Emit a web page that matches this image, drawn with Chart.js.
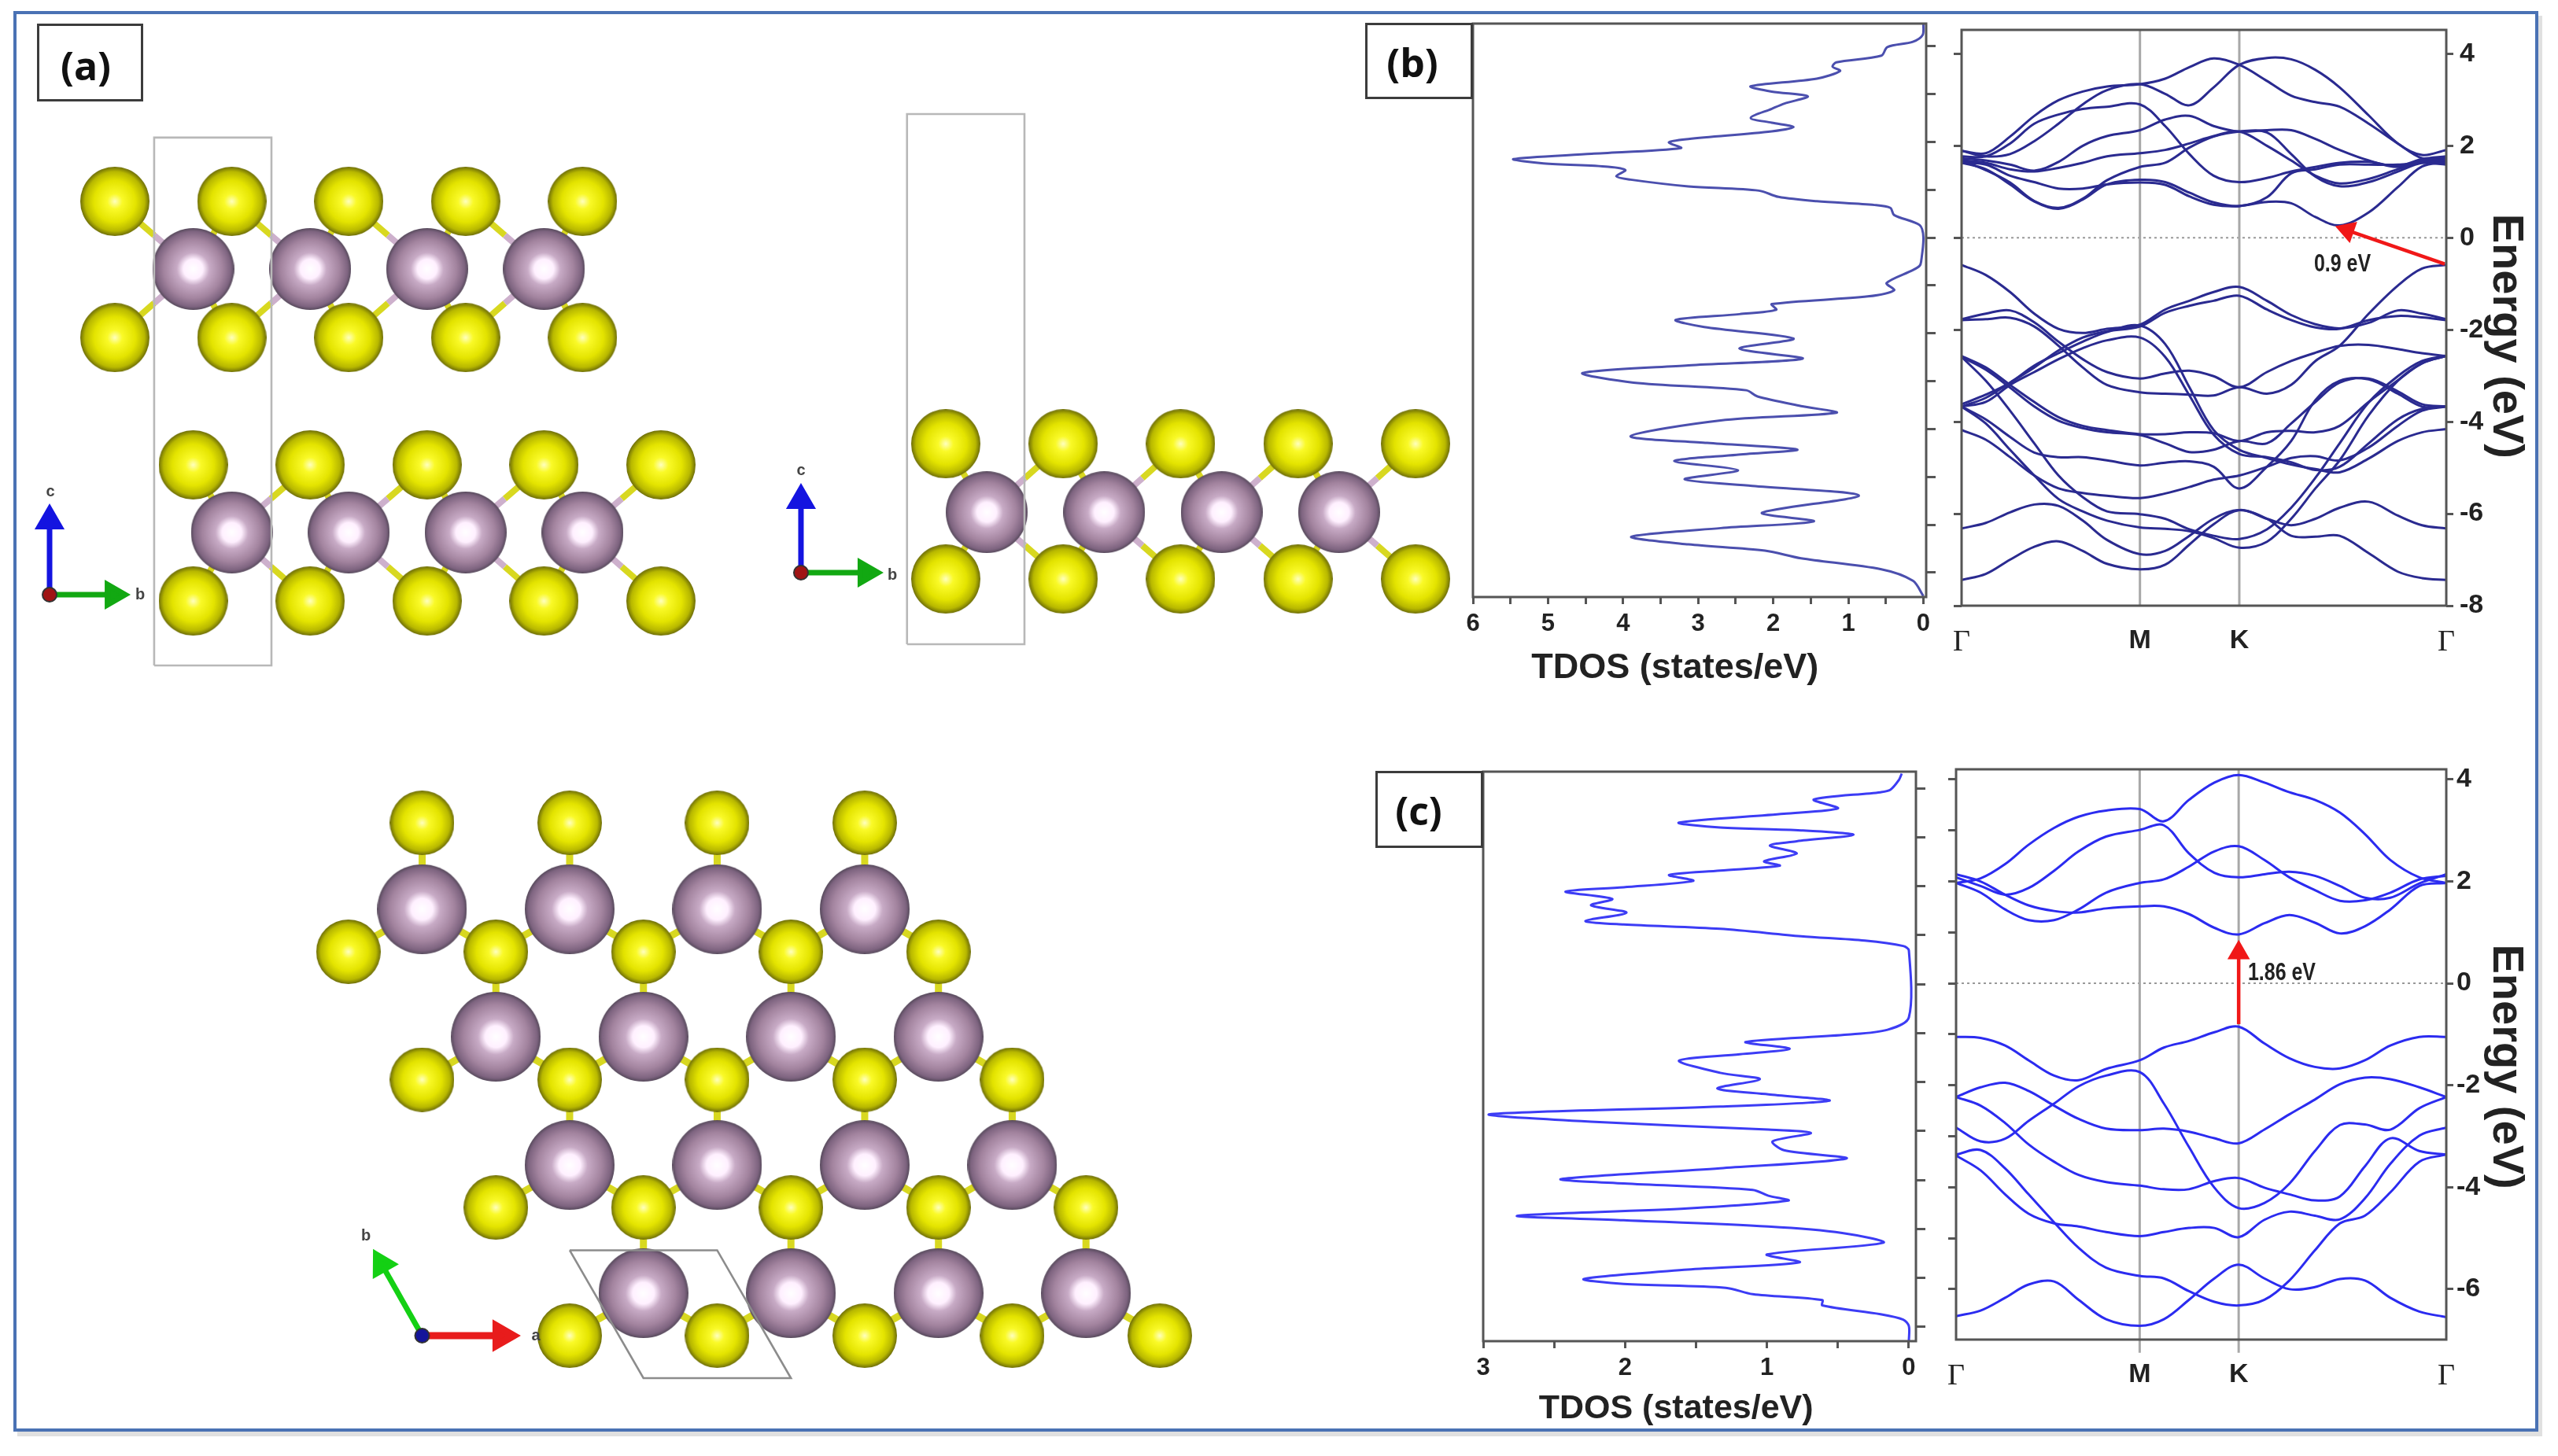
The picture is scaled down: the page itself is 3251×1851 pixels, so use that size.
<!DOCTYPE html>
<html>
<head>
<meta charset="utf-8">
<script src="https://cdn.jsdelivr.net/npm/chart.js@4/dist/chart.umd.min.js"></script>
<style>
  html, body { margin: 0; background: #fff; }
  #page { position: relative; width: 3251px; height: 1851px; overflow: hidden; background: #fff; }
  #frame { position: absolute; left: 17px; top: 14px; width: 3201px; height: 1798px; background: #fff; border: 4px solid #4a72b4; box-shadow: 5px 6px 0 #e0e0e0; }
  canvas { position: absolute; filter: blur(0.7px); }
  .box { position: absolute; border: 3px solid #3c3c3c; background: #fff; box-sizing: border-box; }
  .txt { position: absolute; transform: translate(-50%, -50%); white-space: nowrap; color: #222; }
  .panel { font: 700 50px "Open Sans", sans-serif; color: #111; }
  .axisl { font: bold 20px "Liberation Sans", sans-serif; color: #444; }
  .gap { font: bold 32px "Liberation Sans", sans-serif; transform: translate(-50%, -50%) scaleX(.78); }
</style>
</head>
<body>
<div id="page"><div id="frame"></div></div>
<script>
// ---------------- DATA ----------------
// TDOS, panel (b)
const dosB = [0,.01,.14,.48,.56,1.16,1.21,1.11,1.42,2.3,2.02,1.54,1.85,2.02,2.3,2.02,1.73,2.02,3.13,3.39,3.23,4.42,5.46,5.06,4.2,3.97,4.09,3.9,3.13,2.19,1.93,1.42,.65,.44,.39,.05,0,.03,.05,.14,.49,.39,.74,2.02,1.96,2.45,3.3,2.92,1.73,2.45,1.61,3.13,4.54,3.86,2.36,2.21,1.63,1.16,2.7,3.9,2.88,1.68,2.49,3.32,2.47,3.18,2.28,.86,2.15,1.46,2.7,3.89,3.13,2.11,1.63,.56,.14,0];
const energyB = [4.47,4.23,4.09,3.98,3.8,3.66,3.57,3.48,3.32,3.16,3.05,2.95,2.8,2.69,2.5,2.4,2.31,2.22,2.06,1.99,1.87,1.75,1.64,1.55,1.48,1.41,1.28,1.21,1.07,.98,.85,.76,.68,.62,.47,.26,0,-.5,-.59,-.68,-.95,-1.1,-1.23,-1.39,-1.51,-1.6,-1.72,-1.87,-2.11,-2.32,-2.53,-2.67,-2.83,-3.03,-3.19,-3.32,-3.52,-3.66,-3.82,-4.15,-4.29,-4.43,-4.54,-4.67,-4.86,-5.05,-5.19,-5.39,-5.75,-5.93,-6.07,-6.25,-6.41,-6.54,-6.7,-6.93,-7.17,-7.49];

// TDOS, panel (c)
const dosC = [.05,.07,.13,.2,.67,.5,.88,1.62,1.33,.76,.39,.79,.98,.79,1.02,.91,1.33,1.69,1.52,2.01,2.42,2.09,2.24,1.99,2.28,2.01,1.33,.76,.31,.04,0,0,.15,.43,1.15,.84,1.19,1.62,1.33,1.05,1.35,.99,.56,1.33,2.96,2.24,.99,.69,.96,.88,.44,1.33,2.45,2.01,1.1,.99,.85,1.56,2.76,2.01,.99,.47,.18,1,.77,1.56,2.29,2.01,1.29,1.1,.61,.61,.2,.04,0,0];
const energyC = [4.3,4.17,3.97,3.92,3.77,3.59,3.48,3.3,3.2,3.14,3.05,2.92,2.83,2.67,2.51,2.42,2.32,2.23,2.11,1.98,1.89,1.74,1.61,1.46,1.29,1.22,1.13,.98,.89,.78,.69,-.68,-.93,-1.03,-1.18,-1.32,-1.43,-1.56,-1.81,-1.94,-2.13,-2.25,-2.38,-2.5,-2.66,-2.81,-2.97,-3.04,-3.21,-3.39,-3.56,-3.76,-3.98,-4.07,-4.2,-4.32,-4.42,-4.58,-4.73,-4.82,-4.95,-5.08,-5.28,-5.52,-5.68,-5.83,-6.02,-6.12,-6.2,-6.33,-6.45,-6.56,-6.74,-6.85,-6.98,-7.29];

// band structure, panel (b): one row per band, energies on kPathB
const kPathB = [0,.05,.1,.15,.2,.25,.3,.368,.42,.47,.52,.573,.63,.68,.73,.78,.84,.9,.95,1];
const kMarksB = [0,.368,.573,1];
const bandsB = [
  [1.89,1.84,2.2,2.65,2.99,3.18,3.29,3.34,3.46,3.71,3.9,3.76,3.41,3.09,2.95,2.85,2.48,2.05,1.73,1.68],
  [1.89,1.77,1.82,2.1,2.48,2.9,3.21,3.34,3.13,2.88,3.27,3.76,3.91,3.88,3.65,3.27,2.66,2.05,1.8,1.91],
  [1.77,1.77,2.05,2.48,2.68,2.8,2.85,2.9,2.43,1.82,1.35,1.21,1.3,1.44,1.54,1.63,1.65,1.56,1.71,1.77],
  [1.73,1.68,1.59,1.46,1.65,2,2.21,2.34,2.57,2.65,2.43,2.31,2.34,2.34,2.15,1.91,1.68,1.54,1.68,1.73],
  [1.68,1.63,1.49,1.44,1.52,1.63,1.77,1.84,1.91,2.05,2.21,2.31,2,1.68,1.35,1.18,1.28,1.49,1.65,1.68],
  [1.63,1.59,1.35,1.21,1.07,1.07,1.16,1.2,1.15,.9,.72,.69,.78,.75,.45,.27,.55,1.1,1.55,1.65],
  [1.63,1.49,1.16,.79,.63,.83,1.16,1.26,1.21,.98,.77,.69,.88,1.4,1.49,1.59,1.59,1.59,1.63,1.59],
  [1.68,1.47,1.2,.8,.65,.85,1.25,1.54,1.63,1.96,2.2,2.31,2.29,1.82,1.33,1.12,1.21,1.44,1.63,1.63],
  [-.59,-.81,-1.18,-1.65,-1.98,-2.07,-1.98,-1.89,-1.56,-1.37,-1.18,-1.07,-1.37,-1.68,-1.88,-1.97,-1.85,-1.58,-1.65,-1.77],
  [-3.67,-3.48,-3.15,-2.82,-2.45,-2.17,-2.03,-1.93,-1.63,-1.48,-1.37,-1.26,-1.56,-1.79,-1.95,-1.98,-1.79,-1.7,-1.73,-1.79],
  [-1.77,-1.65,-1.58,-1.84,-2.26,-2.64,-2.92,-3.06,-2.95,-2.89,-3.01,-3.25,-2.92,-2.68,-2.5,-2.35,-2.33,-2.42,-2.51,-2.57],
  [-1.79,-1.77,-1.74,-1.93,-2.35,-2.82,-3.2,-3.36,-3.39,-3.41,-3.43,-3.25,-3.39,-3.2,-2.68,-2.35,-1.65,-1.04,-.67,-.59],
  [-3.67,-3.57,-3.2,-2.92,-2.64,-2.4,-2.23,-2.17,-2.59,-3.43,-4.28,-4.7,-4.77,-4.88,-5.05,-4.98,-4.47,-3.95,-3.72,-3.67],
  [-2.57,-2.82,-3.2,-3.57,-3.9,-4.09,-4.18,-4.27,-4.27,-4.23,-4.25,-4.42,-4.23,-4.2,-4.23,-4.09,-3.57,-3.1,-2.73,-2.57],
  [-2.59,-2.87,-3.26,-3.67,-3.98,-4.14,-4.23,-4.29,-4.47,-4.66,-4.61,-4.42,-4.47,-4.04,-3.57,-3.15,-3.06,-3.34,-3.62,-3.67],
  [-3.62,-3.41,-3.15,-2.78,-2.51,-2.26,-2.05,-1.91,-2.31,-3.25,-4.18,-4.61,-4.79,-4.93,-5.03,-5.1,-4.8,-4.42,-4.23,-4.16],
  [-2.59,-3.11,-3.76,-4.47,-5.17,-5.64,-5.95,-6.01,-6.11,-6.34,-6.48,-6.55,-6.34,-5.87,-5.22,-4.47,-3.58,-3.01,-2.68,-2.57],
  [-3.67,-3.95,-4.33,-4.67,-4.77,-4.77,-4.84,-4.95,-4.89,-4.86,-4.98,-5.45,-4.98,-4.42,-3.53,-3.11,-3.08,-3.39,-3.67,-3.67],
  [-4.18,-4.39,-4.77,-5.17,-5.45,-5.55,-5.61,-5.66,-5.56,-5.42,-5.26,-5.17,-4.98,-4.79,-4.75,-4.84,-4.56,-4.09,-3.76,-3.67],
  [-3.67,-4.04,-4.61,-5.17,-5.68,-5.95,-6.15,-6.3,-6.33,-6.38,-6.53,-6.74,-6.61,-6.11,-5.45,-4.84,-3.86,-3.11,-2.73,-2.57],
  [-6.32,-6.2,-5.97,-5.8,-5.83,-6.15,-6.57,-6.88,-6.81,-6.48,-6.11,-5.92,-6.11,-6.48,-6.5,-6.48,-6.86,-7.26,-7.4,-7.44],
  [-7.44,-7.31,-7,-6.72,-6.6,-6.81,-7.09,-7.21,-7.11,-6.67,-6.23,-5.92,-6.11,-6.25,-6.11,-5.87,-5.74,-6.04,-6.25,-6.32]
];

// band structure, panel (c)
const kPathC = [0,.05,.1,.148,.2,.25,.306,.3746,.424,.475,.527,.5765,.629,.68,.732,.783,.834,.886,.945,1];
const kMarksC = [0,.3746,.5765,1];
const bandsC = [
  [1.97,2.06,2.34,2.72,3.05,3.27,3.39,3.42,3.18,3.6,3.94,4.09,3.94,3.75,3.6,3.35,2.93,2.42,2.08,1.97],
  [2.08,1.91,1.74,1.87,2.21,2.59,2.88,3.01,3.1,2.55,2.17,2.08,2.14,2.19,2.11,1.91,1.68,1.68,1.96,2.14],
  [1.97,1.78,1.45,1.24,1.24,1.45,1.78,1.97,2.04,2.29,2.59,2.69,2.42,2.08,1.83,1.62,1.63,1.78,2.04,2.11],
  [2.14,2,1.74,1.53,1.42,1.39,1.47,1.51,1.51,1.36,1.09,.96,1.18,1.34,1.19,.98,1.12,1.45,1.91,1.97],
  [-1.05,-1.07,-1.22,-1.51,-1.81,-1.9,-1.68,-1.51,-1.26,-1.13,-.96,-.85,-1.18,-1.47,-1.64,-1.67,-1.51,-1.22,-1.05,-1.05],
  [-2.23,-2.04,-1.95,-2.11,-2.4,-2.66,-2.85,-2.88,-2.85,-2.91,-3.04,-3.14,-2.87,-2.57,-2.28,-1.98,-1.85,-1.88,-2.04,-2.23],
  [-2.23,-2.4,-2.74,-3.16,-3.5,-3.76,-3.9,-3.97,-4.04,-4.04,-3.88,-3.82,-4.01,-4.14,-4.26,-4.18,-3.59,-3.04,-3.29,-3.36],
  [-2.83,-3.1,-3.05,-2.7,-2.36,-2.02,-1.81,-1.74,-2.36,-3.21,-4.01,-4.41,-4.31,-3.93,-3.29,-2.78,-2.77,-2.87,-2.45,-2.23],
  [-3.36,-3.27,-3.63,-4.14,-4.69,-5.19,-5.58,-5.74,-5.79,-6.04,-6.25,-6.32,-6.21,-5.83,-5.24,-4.71,-4.56,-4.1,-3.5,-3.36],
  [-3.38,-3.67,-4.14,-4.52,-4.71,-4.77,-4.88,-4.96,-4.88,-4.8,-4.8,-4.98,-4.64,-4.48,-4.56,-4.63,-4.22,-3.54,-2.99,-2.83],
  [-6.53,-6.42,-6.17,-5.91,-5.85,-6.21,-6.59,-6.72,-6.59,-6.21,-5.79,-5.52,-5.79,-6,-5.96,-5.8,-5.83,-6.17,-6.44,-6.55]
];
const kNames = ["Γ","M","K","Γ"];

// bilayer side view: x in cells along b, y in fractions of c
const bilayerS = [[0,.879],[1,.879],[2,.879],[3,.879],[4,.879],[0,.621],[1,.621],[2,.621],[3,.621],[4,.621],
  [.67,.38],[1.67,.38],[2.67,.38],[3.67,.38],[4.67,.38],[.67,.122],[1.67,.122],[2.67,.122],[3.67,.122],[4.67,.122]];
const bilayerMo = [[.67,.751],[1.67,.751],[2.67,.751],[3.67,.751],[1,.252],[2,.252],[3,.252],[4,.252]];
const bilayerCell = [[.336,0],[1.339,0],[1.339,1],[.336,1],[.336,0]];

// monolayer side view
const monoS = [[0,.378],[1,.378],[2,.378],[3,.378],[4,.378],[0,.123],[1,.123],[2,.123],[3,.123],[4,.123]];
const monoMo = [[.349,.249],[1.349,.249],[2.349,.249],[3.349,.249]];
const monoCell = [[-.33,0],[.67,0],[.67,1],[-.33,1],[-.33,0]];

// top view, units of the lattice constant a
const topS = [[0,3.477],[1,3.477],[2,3.477],[3,3.477],
  [-.5,2.603],[.5,2.603],[1.5,2.603],[2.5,2.603],[3.5,2.603],
  [0,1.736],[1,1.736],[2,1.736],[3,1.736],[4,1.736],
  [.5,.869],[1.5,.869],[2.5,.869],[3.5,.869],[4.5,.869],
  [1,0],[2,0],[3,0],[4,0],[5,0]];
const topMo = [[0,2.892],[1,2.892],[2,2.892],[3,2.892],
  [.5,2.027],[1.5,2.027],[2.5,2.027],[3.5,2.027],
  [1,1.157],[2,1.157],[3,1.157],[4,1.157],
  [1.5,.288],[2.5,.288],[3.5,.288],[4.5,.288]];
const topCell = [[1,.579],[2,.579],[2.5,-.288],[1.5,-.288],[1,.579]];

// ---------------- HELPERS ----------------
Chart.defaults.plugins.legend.display = false;
Chart.defaults.plugins.tooltip.enabled = false;
Chart.defaults.animation = false;

const page = document.getElementById("page");
const nb = "\u00a0";

function pts(list) { return list.map(p => ({ x: p[0], y: p[1] })); }

function addCanvas(l, t, r, b) {
  const c = document.createElement("canvas");
  c.width = r - l; c.height = b - t;
  c.style.left = l + "px"; c.style.top = t + "px";
  c.style.width = (r - l) + "px"; c.style.height = (b - t) + "px";
  page.appendChild(c);
  return c;
}

function addText(text, x, y, cls) {
  const d = document.createElement("div");
  d.className = "txt " + cls;
  d.textContent = text;
  d.style.left = x + "px"; d.style.top = y + "px";
  page.appendChild(d);
}

function addBox(l, t, r, b) {
  const d = document.createElement("div");
  d.className = "box";
  d.style.left = l + "px"; d.style.top = t + "px";
  d.style.width = (r - l) + "px"; d.style.height = (b - t) + "px";
  page.appendChild(d);
}

const framePlugin = {
  id: "frameBox",
  afterDatasetsDraw(chart) {
    const a = chart.chartArea, ctx = chart.ctx;
    ctx.save();
    ctx.strokeStyle = "#555";
    ctx.lineWidth = 3;
    ctx.strokeRect(a.left, a.top, a.right - a.left, a.bottom - a.top);
    ctx.restore();
  }
};

function tickGrid(len) {
  return { drawOnChartArea: false, drawTicks: true, tickLength: len, tickColor: "#555", tickWidth: 3 };
}

function arrow(from, to, color, width, head, rot) {
  return {
    data: pts([from, to]), showLine: true, borderColor: color, borderWidth: width,
    backgroundColor: color, pointBorderColor: color, pointStyle: "triangle",
    pointRadius: [0, head], pointRotation: [0, rot], order: 0, clip: false
  };
}

// ---------------- TDOS ----------------
function dosChart(rect, area, dos, energy, color, o) {
  const c = addCanvas(rect[0], rect[1], rect[2], rect[3]);
  new Chart(c, {
    type: "scatter",
    data: { datasets: [{
      data: dos.map((d, i) => ({ x: d, y: energy[i] })),
      showLine: true, borderColor: color, borderWidth: 3, pointRadius: 0, tension: 0.3
    }] },
    options: {
      responsive: false, devicePixelRatio: 1,
      layout: { autoPadding: false, padding: { left: area[0] - rect[0], top: area[1] - rect[1], right: 0, bottom: 0 } },
      scales: {
        x: {
          reverse: true, min: o.xMin, max: o.xMax,
          border: { display: false }, grid: tickGrid(9),
          ticks: {
            stepSize: 0.5, includeBounds: false, autoSkip: false, maxRotation: 0, padding: 7, color: "#222",
            font: { family: "Liberation Sans", weight: "bold", size: 31 },
            callback: v => Number.isInteger(v) ? String(v) : ""
          },
          title: { display: true, text: "TDOS (states/eV)" + nb.repeat(5), color: "#222",
            font: { family: "Liberation Sans", weight: "bold", size: o.titleSize },
            padding: { top: 0, bottom: o.titlePad } },
          afterFit: s => { s.height = rect[3] - area[3]; s.paddingLeft = 0; s.paddingRight = 0; }
        },
        y: {
          position: "right", min: o.yMin, max: o.yMax,
          border: { display: false }, grid: tickGrid(12),
          ticks: { stepSize: 1, includeBounds: false, callback: () => "" },
          afterFit: s => { s.width = rect[2] - area[2]; s.paddingTop = 0; s.paddingBottom = 0; }
        }
      }
    },
    plugins: [framePlugin]
  });
}

// ---------------- BANDS ----------------
function bandChart(rect, area, kPath, bands, marks, color, o) {
  const c = addCanvas(rect[0], rect[1], rect[2], rect[3]);
  const sets = bands.map(b => ({
    data: b.map((e, i) => ({ x: kPath[i], y: e })),
    showLine: true, borderColor: color, borderWidth: 3, pointRadius: 0, tension: 0.35, order: 2
  }));
  [marks[1], marks[2]].forEach(k => sets.push({
    data: pts([[k, o.lineLow], [k, o.yMax]]), showLine: true, borderColor: "#a8a8a8",
    borderWidth: 3, pointRadius: 0, order: 3, clip: false
  }));
  sets.push({
    data: pts([[0, 0], [1, 0]]), showLine: true, borderColor: "#999", borderWidth: 2,
    borderDash: [3, 4], pointRadius: 0, order: 3
  });
  sets.push(arrow(o.gapFrom, o.gapTo, "#f01818", 4.5, 12, o.gapRot));
  new Chart(c, {
    type: "scatter",
    data: { datasets: sets },
    options: {
      responsive: false, devicePixelRatio: 1,
      layout: { autoPadding: false, padding: { top: area[1] - rect[1] } },
      scales: {
        x: {
          min: 0, max: 1,
          border: { display: false }, grid: { display: false, drawTicks: false },
          afterBuildTicks: axis => { axis.ticks = marks.map(v => ({ value: v })); },
          ticks: {
            autoSkip: false, maxRotation: 0, padding: o.kPad, color: "#222",
            font: ctx => ctx.index === 1 || ctx.index === 2
              ? { family: "Liberation Sans", weight: "bold", size: 34 }
              : { family: "Liberation Serif", size: 38 },
            callback: (v, i) => kNames[i]
          },
          afterFit: s => { s.height = rect[3] - area[3]; s.paddingLeft = 0; s.paddingRight = 0; }
        },
        y: {
          position: "right", min: o.yMin, max: o.yMax,
          border: { display: false }, grid: tickGrid(9),
          ticks: {
            stepSize: 2, includeBounds: false, padding: o.tickPad, color: "#222",
            font: { family: "Liberation Sans", weight: "bold", size: 34 }
          },
          title: { display: true, text: nb.repeat(o.titleShift) + "Energy (eV)", color: "#222",
            font: { family: "Liberation Sans", weight: "bold", size: 56 }, padding: 0 },
          afterFit: s => { s.width = rect[2] - area[2]; s.paddingTop = 0; s.paddingBottom = 0; }
        },
        y2: {
          position: "left", min: o.yMin, max: o.yMax,
          border: { display: false }, grid: tickGrid(10),
          ticks: { stepSize: o.leftStep, includeBounds: false, callback: () => "" },
          afterFit: s => { s.width = area[0] - rect[0]; s.paddingTop = 0; s.paddingBottom = 0; }
        }
      }
    },
    plugins: [framePlugin]
  });
}

// ---------------- STRUCTURES ----------------
function atomSprite(r, stops) {
  const c = document.createElement("canvas");
  c.width = c.height = 2 * r;
  const ctx = c.getContext("2d");
  const g = ctx.createRadialGradient(r, r, 0, r, r, r);
  stops.forEach(s => g.addColorStop(s[0], s[1]));
  ctx.fillStyle = g;
  ctx.arc(r, r, r, 0, Math.PI * 2);
  ctx.fill();
  return c;
}
const sulfurStops = [[0, "#ffffc0"], [.22, "#fafa28"], [.6, "#e4e400"], [.86, "#b8b800"], [1, "#6e6e08"]];
const metalStops = [[0, "#ffffff"], [.24, "#fff0ff"], [.4, "#c8abc6"], [.72, "#a3849f"], [.92, "#7e6480"], [1, "#574a5c"]];

// bonds come from the atom lists: every S within reach of a metal atom
function bondSets(s, mo, ux, uy, reach, width) {
  const yellow = [], pink = [];
  mo.forEach(m => s.forEach(a => {
    const d = Math.hypot((a[0] - m[0]) * ux, (a[1] - m[1]) * uy);
    if (d > reach) return;
    const mid = [(a[0] + m[0]) / 2, (a[1] + m[1]) / 2];
    yellow.push({ x: a[0], y: a[1] }, { x: mid[0], y: mid[1] }, { x: NaN, y: NaN });
    pink.push({ x: mid[0], y: mid[1] }, { x: m[0], y: m[1] }, { x: NaN, y: NaN });
  }));
  const base = { showLine: true, borderWidth: width, pointRadius: 0, order: 6, spanGaps: false };
  return [{ ...base, data: yellow, borderColor: "#d8d820" }, { ...base, data: pink, borderColor: "#cdb0cc" }];
}

function structureChart(rect, view, s, mo, cell, o) {
  const c = addCanvas(rect[0], rect[1], rect[2], rect[3]);
  const sets = bondSets(s, mo, o.ux, o.uy, o.reach, o.bond);
  sets.push({ data: pts(s), pointStyle: atomSprite(o.rS, sulfurStops), pointRadius: o.rS, order: 4 });
  sets.push({ data: pts(mo), pointStyle: atomSprite(o.rMo, metalStops), pointRadius: o.rMo, order: 3 });
  sets.push({ data: pts(cell), showLine: true, borderColor: o.cellColor, borderWidth: 2.6, pointRadius: 0, order: 2 });
  o.arrows.forEach(a => sets.push(a));
  sets.push({ data: pts([o.origin]), pointRadius: 9, pointBackgroundColor: o.dot, pointBorderColor: "#333", pointBorderWidth: 2, order: -1 });
  new Chart(c, {
    type: "scatter",
    data: { datasets: sets },
    options: {
      responsive: false, devicePixelRatio: 1,
      layout: { autoPadding: false, padding: 0 },
      scales: {
        x: { display: false, min: view[0], max: view[1] },
        y: { display: false, min: view[2], max: view[3] }
      }
    }
  });
}

// ---------------- PAGE ----------------
structureChart([40, 150, 900, 870], [-.7133, 5.074, -.0358, 1.037], bilayerS, bilayerMo, bilayerCell, {
  ux: 148.6, uy: 671, reach: 140, bond: 8, rS: 44, rMo: 52, cellColor: "#b8b8b8", dot: "#a01414", origin: [-.5585, .134],
  arrows: [arrow([-.5585, .134], [-.5585, .274], "#1414e0", 7, 15, 0), arrow([-.5585, .134], [-.013, .134], "#12a812", 7, 15, 90)]
});
structureChart([980, 130, 1860, 840], [-1.4874, 4.4087, -.0312, 1.0223], monoS, monoMo, monoCell, {
  ux: 149.25, uy: 674, reach: 140, bond: 8, rS: 44, rMo: 52, cellColor: "#b8b8b8", dot: "#a01414", origin: [-1.233, .135],
  arrows: [arrow([-1.233, .135], [-1.233, .2715], "#1414e0", 7, 15, 0), arrow([-1.233, .135], [-.677, .135], "#12a812", 7, 15, 90)]
});
structureChart([380, 1000, 1560, 1790], [-.8347, 5.459, -.4907, 3.723], topS, topMo, topCell, {
  ux: 187.5, uy: 187.5, reach: 115, bond: 9, rS: 41, rMo: 57, cellColor: "#8c8c8c", dot: "#14149a", origin: [0, 0],
  arrows: [arrow([0, 0], [.541, 0], "#e81c1c", 9, 15, 90), arrow([0, 0], [-.275, .4853], "#14d014", 7, 15, -29.5)]
});

dosChart([1860, 20, 2490, 880], [1872, 30, 2448, 759], dosB, energyB, "#4b4fae",
  { xMin: -.037, xMax: 6, yMin: -7.51, yMax: 4.47, titleSize: 45, titlePad: 3 });
dosChart([1873, 970, 2475, 1819], [1885, 981, 2435, 1705], dosC, energyC, "#3c3cf5",
  { xMin: -.05, xMax: 3, yMin: -7.29, yMax: 4.34, titleSize: 43, titlePad: 2 });

bandChart([2470, 20, 3218, 880], [2493, 38, 3109, 770], kPathB, bandsB, kMarksB, "#2a2a90",
  { yMin: -8, yMax: 4.52, lineLow: -8, leftStep: 2, tickPad: 8, kPad: 24, titleShift: 3,
    gapFrom: [.997, -.57], gapTo: [.796, .16], gapRot: -71 });
bandChart([2463, 968, 3218, 1790], [2486, 978, 3109, 1703], kPathC, bandsC, kMarksC, "#2b2bf0",
  { yMin: -6.99, yMax: 4.2, lineLow: -7.25, leftStep: 1, tickPad: 4, kPad: 24, titleShift: 2,
    gapFrom: [.5765, -.8], gapTo: [.5765, .6], gapRot: 0 });

addBox(47, 30, 182, 129);
addBox(1735, 29, 1872, 126);
addBox(1748, 980, 1885, 1078);
addText("(a)", 109, 83, "panel");
addText("(b)", 1795, 79, "panel");
addText("(c)", 1803, 1030, "panel");
addText("0.9 eV", 2977, 334, "gap");
addText("1.86 eV", 2900, 1235, "gap");

addText("c", 64, 624, "axisl");
addText("b", 178, 755, "axisl");
addText("c", 1018, 597, "axisl");
addText("b", 1134, 730, "axisl");
addText("b", 465, 1570, "axisl");
addText("a", 681, 1697, "axisl");
</script>
</body>
</html>
